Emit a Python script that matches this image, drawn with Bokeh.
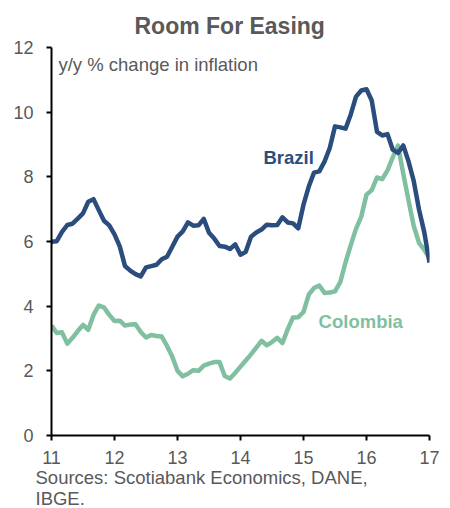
from bokeh.plotting import figure
from bokeh.models import Title, FixedTicker, Range1d
from bokeh.core.properties import value
from bokeh.embed import file_html
from bokeh.resources import INLINE

# Monthly y/y inflation, Jan 2011 .. Jan 2017
start_year = 11
brazil = [5.99, 6.01, 6.30, 6.51, 6.55, 6.71, 6.87, 7.23, 7.31, 6.97, 6.64, 6.50,
          6.22, 5.85, 5.24, 5.10, 4.99, 4.92, 5.20, 5.24, 5.28, 5.45, 5.53, 5.84,
          6.15, 6.31, 6.59, 6.49, 6.50, 6.70, 6.27, 6.09, 5.86, 5.84, 5.77, 5.91,
          5.59, 5.68, 6.15, 6.28, 6.37, 6.52, 6.50, 6.51, 6.75, 6.59, 6.56, 6.41,
          7.14, 7.70, 8.13, 8.17, 8.47, 8.89, 9.56, 9.53, 9.49, 9.93, 10.48, 10.67,
          10.71, 10.36, 9.39, 9.28, 9.32, 8.84, 8.74, 8.97, 8.48, 7.87, 6.99, 6.29,
          5.35]
colombia = [3.40, 3.17, 3.19, 2.84, 3.02, 3.23, 3.42, 3.27, 3.73, 4.02, 3.96, 3.73,
            3.54, 3.55, 3.40, 3.43, 3.44, 3.20, 3.03, 3.11, 3.08, 3.06, 2.77, 2.44,
            2.00, 1.83, 1.91, 2.02, 2.00, 2.16, 2.22, 2.27, 2.27, 1.84, 1.76, 1.94,
            2.13, 2.32, 2.51, 2.72, 2.93, 2.79, 2.89, 3.02, 2.86, 3.29, 3.65, 3.66,
            3.82, 4.36, 4.56, 4.64, 4.41, 4.42, 4.46, 4.74, 5.35, 5.89, 6.39, 6.77,
            7.45, 7.59, 7.98, 7.93, 8.20, 8.60, 8.97, 8.10, 7.27, 6.48, 5.96, 5.75,
            5.47]
x_ticks = [11, 12, 13, 14, 15, 16, 17]
y_ticks = [0, 2, 4, 6, 8, 10, 12]
source_lines = ["Sources: Scotiabank Economics, DANE,", "IBGE."]

months = [start_year + i / 12 for i in range(len(brazil))]

GREY = "#595959"
NAVY = "#2a4d7e"
GREEN = "#80bf9f"
FONT = "Liberation Sans"

p = figure(width=442, height=508, output_backend="svg", toolbar_location=None,
           x_range=Range1d(11, 17), y_range=Range1d(0, 12),
           min_border_left=51, min_border_right=13, min_border_top=47, min_border_bottom=73)
p.outline_line_color = None
p.xgrid.grid_line_color = None
p.ygrid.grid_line_color = None
p.background_fill_color = "white"
p.border_fill_color = "white"

p.title.text = "Room For Easing"
p.title.text_font = FONT
p.title.text_font_size = "23px"
p.title.text_font_style = "bold"
p.title.text_color = GREY
p.title.align = "left"
p.title.offset = 83
p.title.standoff = 17

for ax in (p.xaxis[0], p.yaxis[0]):
    ax.axis_line_color = "black"
    ax.axis_line_width = 2
    ax.major_tick_line_color = "black"
    ax.major_tick_line_width = 2
    ax.major_tick_in = 0
    ax.major_tick_out = 5
    ax.minor_tick_line_color = None
    ax.major_label_text_font = FONT
    ax.major_label_text_font_size = "18px"
    ax.major_label_text_color = GREY
p.xaxis[0].major_label_standoff = 10
p.yaxis[0].major_label_standoff = 13
p.xaxis[0].ticker = FixedTicker(ticks=x_ticks)
p.yaxis[0].ticker = FixedTicker(ticks=y_ticks)

p.line(months, colombia, line_color=GREEN, line_width=4.5, line_join="round")
p.line(months, brazil, line_color=NAVY, line_width=4.5, line_join="round")

p.text(x=[11.11], y=[11.47], text=["y/y % change in inflation"],
       text_font=value(FONT), text_font_size="18.5px", text_color=GREY,
       text_baseline="middle", text_align="left")
p.text(x=[14.365], y=[8.6], text=["Brazil"], text_font=value(FONT),
       text_font_size="18.5px", text_font_style="bold", text_color=NAVY,
       text_baseline="middle", text_align="left")
p.text(x=[15.24], y=[3.53], text=["Colombia"], text_font=value(FONT),
       text_font_size="18.5px", text_font_style="bold", text_color=GREEN,
       text_baseline="middle", text_align="left")

for line, so in zip(source_lines, [-3, -2]):
    t = Title(text=line, align="left", offset=-16, text_font=FONT,
              text_font_size="18.5px", text_font_style="normal",
              text_color=GREY, standoff=so)
    p.add_layout(t, "below")

open("out.html", "w").write(file_html(p, INLINE))
